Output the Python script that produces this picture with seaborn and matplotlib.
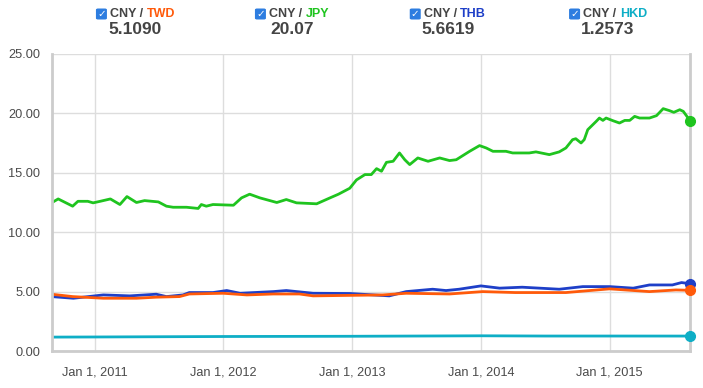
import matplotlib
matplotlib.use("Agg")
import matplotlib.pyplot as plt
from matplotlib.patches import FancyBboxPatch
import pandas as pd
import seaborn as sns

# ---------------- data ----------------
jpy_dates = ["2010-09-01", "2010-09-20", "2010-10-31", "2010-11-15", "2010-12-13", "2010-12-28",
             "2011-01-17", "2011-02-15", "2011-03-14", "2011-04-03", "2011-04-30", "2011-05-23",
             "2011-07-01", "2011-07-24", "2011-08-12", "2011-09-19", "2011-10-22", "2011-10-31",
             "2011-11-14", "2011-12-03", "2012-01-30", "2012-02-22", "2012-03-16", "2012-04-14",
             "2012-06-01", "2012-06-28", "2012-07-27", "2012-09-22", "2012-10-30", "2012-11-23",
             "2012-12-25", "2013-01-13", "2013-02-06", "2013-02-24", "2013-03-11", "2013-03-25",
             "2013-04-08", "2013-04-27", "2013-05-15", "2013-05-30", "2013-06-13", "2013-07-06",
             "2013-08-04", "2013-09-06", "2013-10-04", "2013-10-23", "2013-11-30", "2013-12-28",
             "2014-01-16", "2014-02-04", "2014-03-13", "2014-04-01", "2014-05-18", "2014-06-06",
             "2014-07-14", "2014-08-11", "2014-08-30", "2014-09-18", "2014-09-27", "2014-10-12",
             "2014-10-21", "2014-10-31", "2014-11-24", "2014-12-03", "2014-12-13", "2014-12-22",
             "2015-01-10", "2015-01-29", "2015-02-13", "2015-02-27", "2015-03-13", "2015-03-27",
             "2015-04-24", "2015-05-14", "2015-06-02", "2015-06-20", "2015-07-02", "2015-07-19",
             "2015-07-29", "2015-08-17"]
jpy_values = [12.47, 12.80, 12.19, 12.60, 12.60, 12.47,
              12.60, 12.80, 12.33, 13.00, 12.50, 12.66,
              12.55, 12.19, 12.10, 12.10, 12.00, 12.33,
              12.19, 12.33, 12.27, 12.89, 13.20, 12.89,
              12.50, 12.75, 12.47, 12.39, 12.89, 13.20,
              13.70, 14.40, 14.85, 14.85, 15.35, 15.13,
              15.88, 15.97, 16.67, 16.10, 15.69, 16.25,
              15.97, 16.25, 16.03, 16.10, 16.81, 17.29,
              17.09, 16.81, 16.81, 16.67, 16.67, 16.76,
              16.53, 16.76, 17.09, 17.79, 17.87, 17.51,
              17.79, 18.63, 19.33, 19.61, 19.41, 19.61,
              19.39, 19.19, 19.41, 19.41, 19.75, 19.61,
              19.61, 19.81, 20.40, 20.23, 20.09, 20.31,
              20.17, 19.39]

twd_dates = ["2010-09-01", "2010-10-31", "2011-01-26", "2011-04-30", "2011-06-25", "2011-08-30",
             "2011-09-27", "2012-01-01", "2012-03-08", "2012-05-22", "2012-08-04", "2012-09-12",
             "2012-12-20", "2013-03-29", "2013-06-03", "2013-10-04", "2014-01-06", "2014-04-08",
             "2014-08-30", "2015-01-01", "2015-04-24", "2015-07-08", "2015-08-17"]
twd_values = [4.78, 4.58, 4.44, 4.44, 4.53, 4.58,
              4.80, 4.86, 4.72, 4.80, 4.80, 4.64,
              4.68, 4.72, 4.86, 4.80, 5.00, 4.92,
              4.92, 5.23, 5.00, 5.14, 5.109]

thb_dates = ["2010-09-01", "2010-11-02", "2011-01-26", "2011-04-11", "2011-06-25", "2011-07-24",
             "2011-09-09", "2011-09-27", "2011-12-03", "2012-01-11", "2012-02-18", "2012-05-22",
             "2012-06-28", "2012-09-12", "2012-12-25", "2013-04-16", "2013-06-03", "2013-08-17",
             "2013-09-24", "2013-10-31", "2014-01-01", "2014-02-23", "2014-04-28", "2014-08-11",
             "2014-10-17", "2015-01-01", "2015-03-09", "2015-04-24", "2015-06-28", "2015-07-24",
             "2015-08-17"]
thb_values = [4.58, 4.44, 4.72, 4.64, 4.78, 4.58,
              4.72, 4.92, 4.92, 5.09, 4.86, 5.00,
              5.09, 4.86, 4.84, 4.64, 5.00, 5.20,
              5.09, 5.20, 5.48, 5.29, 5.37, 5.20,
              5.42, 5.42, 5.29, 5.56, 5.56, 5.76,
              5.6619]

hkd_dates = ["2010-09-01", "2011-01-01", "2011-07-01", "2012-01-01", "2012-07-01", "2013-01-01",
             "2013-07-01", "2014-01-01", "2014-07-01", "2015-01-01", "2015-08-17"]
hkd_values = [1.17, 1.18, 1.20, 1.22, 1.23, 1.24, 1.26, 1.28, 1.26, 1.26, 1.2573]

pairs = ["TWD", "JPY", "THB", "HKD"]
header_values = ["5.1090", "20.07", "5.6619", "1.2573"]
colors = {"TWD": "#ff5a0a", "JPY": "#1fc41f", "THB": "#1e3fc8", "HKD": "#0eaec6"}
y_ticks = [0, 5, 10, 15, 20, 25]
x_ticks = ["2011-01-01", "2012-01-01", "2013-01-01", "2014-01-01", "2015-01-01"]

frames = []
for name, d, v in [("HKD", hkd_dates, hkd_values), ("THB", thb_dates, thb_values),
                   ("TWD", twd_dates, twd_values), ("JPY", jpy_dates, jpy_values)]:
    frames.append(pd.DataFrame({"date": pd.to_datetime(d), "value": v, "pair": name}))
df = pd.concat(frames, ignore_index=True)

# ---------------- figure ----------------
sns.set_style("white")
plt.rcParams["font.family"] = ["Liberation Sans", "DejaVu Sans"]

W, H = 703, 388
fig = plt.figure(figsize=(W / 100, H / 100), dpi=100)
ax = fig.add_axes([51.5 / W, 1 - 351 / H, (690 - 51.5) / W, (351 - 54) / H])

order = ["HKD", "THB", "TWD", "JPY"]
sns.lineplot(data=df, x="date", y="value", hue="pair", hue_order=order,
             palette=colors, linewidth=2.0, legend=False, ax=ax, estimator=None, sort=False)

for name in order:
    sub = df[df["pair"] == name]
    last = sub.iloc[-1]
    ax.plot([last["date"]], [last["value"]], "o", color=colors[name], markersize=7,
            zorder=5, clip_on=False)

ax.set_xlim(pd.Timestamp("2010-09-01"), pd.Timestamp("2015-08-17"))
ax.set_ylim(0, 25)
ax.set_yticks(y_ticks)
ax.set_yticklabels([f"{t:.2f}" for t in y_ticks])
xt = pd.to_datetime(x_ticks)
ax.set_xticks(xt)
ax.set_xticklabels([f"Jan 1, {t.year}" for t in xt])
ax.set_xlabel("")
ax.set_ylabel("")

ax.grid(True, color="#dddddd", linewidth=1)
ax.set_axisbelow(True)
for s in ["left", "bottom", "right"]:
    ax.spines[s].set_visible(True)
    ax.spines[s].set_color("#cccccc")
    ax.spines[s].set_linewidth(2)
ax.spines["top"].set_visible(False)
ax.tick_params(axis="both", colors="#cccccc", labelcolor="#4a4a4a", labelsize=9.2,
               length=6, width=1.5, direction="out")
ax.tick_params(axis="y", pad=2)
ax.tick_params(axis="x", pad=5)

# ---------------- header ----------------
centers = [135.5, 292, 448, 608]
fig.canvas.draw()
renderer = fig.canvas.get_renderer()
for pair, val, cx in zip(pairs, header_values, centers):
    t1 = fig.text(0, 0, "CNY / ", fontsize=9, fontweight="bold", color="#444444")
    t2 = fig.text(0, 0, pair, fontsize=9, fontweight="bold", color=colors[pair])
    w1 = t1.get_window_extent(renderer).width
    w2 = t2.get_window_extent(renderer).width
    box_w = 11
    gap = 3
    total = box_w + gap + w1 + w2
    x0 = cx - total / 2
    yl = H - 14
    box = FancyBboxPatch((x0 / W, (H - 19.5) / H), box_w / W, 11 / H,
                         boxstyle="round,pad=0,rounding_size=0.003",
                         transform=fig.transFigure, facecolor="#2d7de0",
                         edgecolor="none")
    fig.patches.append(box)
    fig.text((x0 + box_w / 2) / W, (H - 14) / H, "✓", color="white", fontsize=7.5,
             fontweight="bold", ha="center", va="center", family="DejaVu Sans")
    t1.set_position(((x0 + box_w + gap) / W, yl / H))
    t1.set_va("center")
    t2.set_position(((x0 + box_w + gap + w1) / W, yl / H))
    t2.set_va("center")
    fig.text(cx / W, (H - 30) / H, val, fontsize=12.5, fontweight="bold",
             color="#444444", ha="center", va="center")

fig.savefig("out.png", dpi=100)
